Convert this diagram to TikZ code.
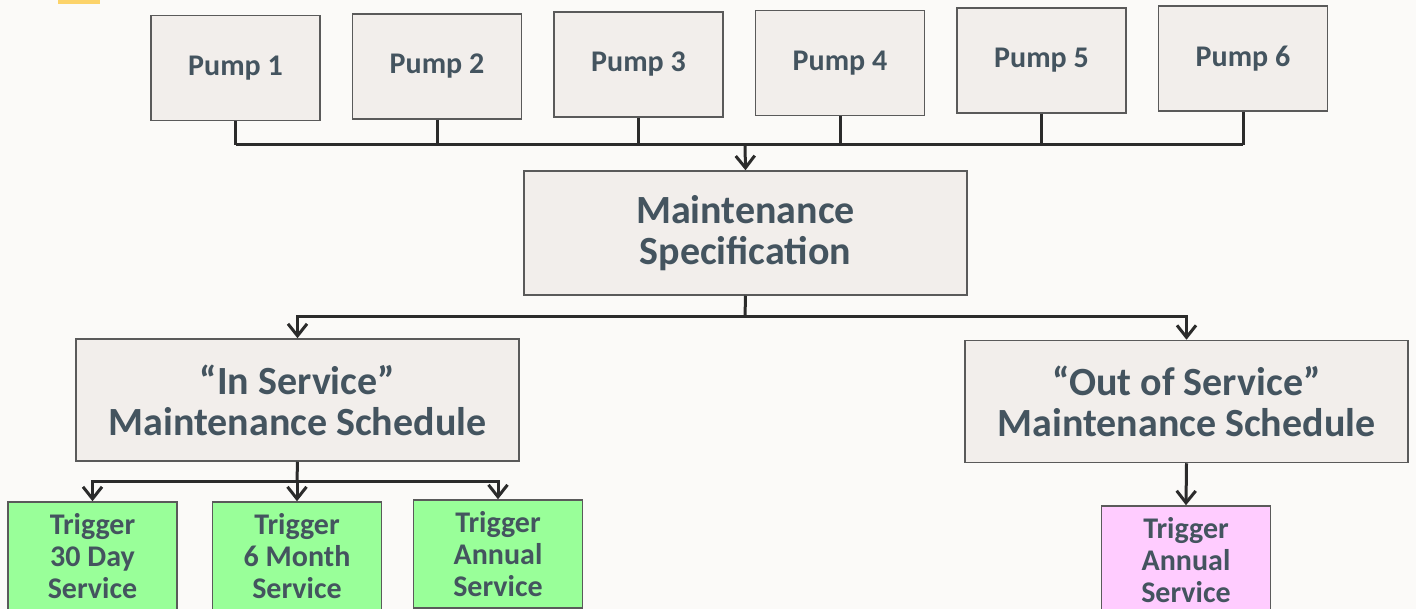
\documentclass[tikz,border=0pt]{standalone}
\usepackage{fontspec}
\setmainfont{Carlito}
\usetikzlibrary{arrows.meta}
\definecolor{pagebg}{HTML}{FBFAF8}
\definecolor{boxfill}{HTML}{F2EEEB}
\definecolor{boxline}{HTML}{5A5A5A}
\definecolor{labeltext}{HTML}{44545F}
\definecolor{wirecol}{HTML}{2B2B2B}
\definecolor{trgreen}{HTML}{99FF99}
\definecolor{trpink}{HTML}{FFCCFF}
\definecolor{tabyellow}{HTML}{FCD36A}
\tikzset{
  box/.style={draw=boxline, fill=boxfill, line width=1.5pt, text=labeltext,
    align=center, inner sep=0pt},
  pump/.style={box, minimum width=169pt, minimum height=105pt,
    font=\bfseries\fontsize{30}{34}\selectfont},
  spec/.style={box, minimum width=443pt, minimum height=124pt,
    font=\bfseries\fontsize{40}{41}\selectfont},
  sched/.style={box, minimum width=443pt, minimum height=122pt,
    font=\bfseries\fontsize{40}{41}\selectfont},
  trig/.style={box, fill=trgreen, minimum width=169pt, minimum height=108pt,
    font=\bfseries\fontsize{30}{32}\selectfont},
  wire/.style={draw=wirecol, line width=3pt},
  tip/.style={-{Straight Barb[length=12pt,width=19pt]}}
}
\begin{document}
\begin{tikzpicture}[x=1pt,y=-1pt]
    \useasboundingbox[fill=pagebg] (0,0) rectangle (1416,609);
    \fill[tabyellow] (58,0) rectangle (100,4);
    % pumps
    \node[pump] (p1) at (235.5,68)   {Pump 1};
    \node[pump] (p2) at (437,66.5)   {Pump 2};
    \node[pump] (p3) at (638.5,64.5) {Pump 3};
    \node[pump] (p4) at (840,63)     {Pump 4};
    \node[pump] (p5) at (1041.5,60.5){Pump 5};
    \node[pump] (p6) at (1243,58.5)  {Pump 6};
    % specification and schedules
    \node[spec] (spec) at (745.5,233) {Maintenance\\Specification};
    \node[sched] (ins) at (297.5,400) {“In Service”\\Maintenance Schedule};
    \node[sched] (outs) at (1186.5,401.5) {“Out of Service”\\Maintenance Schedule};
    % triggers
    \node[trig] (t1) at (92.5,556) {Trigger\\30 Day\\Service};
    \node[trig] (t2) at (297,556)  {Trigger\\6 Month\\Service};
    \node[trig] (t3) at (498,554)  {Trigger\\Annual\\Service};
    \node[trig, fill=trpink] (t4) at (1186,560) {Trigger\\Annual\\Service};
    % connectors
    \coordinate (bus) at (745,145);
    \coordinate (split) at (745,317);
    \coordinate (split2) at (297,481);
    \foreach \i in {1,...,6}
      \draw[wire] (p\i.south) -- (p\i.south |- bus);
    \draw[wire] (p1.south |- bus) -- (p6.south |- bus);
    \draw[wire,tip] (bus) -- (spec.north);
    \draw[wire] (spec.south) -- (split);
    \draw[wire,tip] (split) -| (ins.north);
    \draw[wire,tip] (split) -| (outs.north);
    \draw[wire] (ins.south) -- (split2);
    \draw[wire,tip] (split2) -| (t1.north);
    \draw[wire,tip] (split2) -- (t2.north);
    \draw[wire,tip] (split2) -| (t3.north);
    \draw[wire,tip] (outs.south) -- (t4.north);
\end{tikzpicture}
\end{document}
